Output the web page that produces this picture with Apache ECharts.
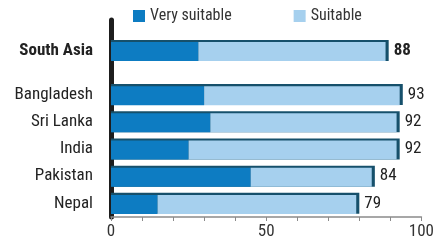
<!DOCTYPE html>
<html>
<head>
<meta charset="utf-8">
<script src="https://cdn.jsdelivr.net/npm/echarts@6/dist/echarts.min.js"></script>
<style>
  html, body { margin: 0; padding: 0; background: #fff; }
  #chart { width: 437px; height: 246px; }
</style>
</head>
<body>
<div id="chart"></div>
<script>
// region row (top) and country rows
var regionName = ['South Asia']
var regionVery = [28]
var regionSuit = [60]
var regionTotal = [88]

var countries = ['Bangladesh', 'Sri Lanka', 'India', 'Pakistan', 'Nepal']
var countryVery = [30, 32, 25, 45, 15]
var countrySuit = [63, 60, 67, 39, 64]
var countryTotal = [93, 92, 92, 84, 79]

var xTicks = [0, 50, 100]

var FONT = '"Liberation Sans Narrow", "Arial Narrow", "Roboto Condensed", Roboto, sans-serif'
var DARK = '#0d7cc2'
var LIGHT = '#a6d0ee'
var FRAME = '#16506b'

var chart = echarts.init(document.getElementById('chart'))

function xAxisFor(idx, show) {
  return {
    gridIndex: idx,
    type: 'value',
    min: 0,
    max: 100,
    interval: 10,
    show: show,
    splitLine: { show: false },
    axisLine: { show: true, lineStyle: { color: '#8a8a8a', width: 1.5 } },
    axisTick: { show: true, length: 4, lineStyle: { color: '#8a8a8a' } },
    axisLabel: {
      fontFamily: FONT,
      fontSize: 17,
      color: '#333',
      margin: 6,
      formatter: function (v) { return xTicks.indexOf(v) >= 0 ? String(v) : '' }
    }
  }
}

function yAxisFor(idx, cats, bold) {
  return {
    gridIndex: idx,
    type: 'category',
    data: cats,
    inverse: true,
    offset: 3,
    axisLine: { show: true, lineStyle: { color: '#1d1d1d', width: 5 } },
    axisTick: { show: false },
    axisLabel: {
      fontFamily: FONT,
      fontSize: 17,
      fontWeight: bold ? 'bold' : 'normal',
      color: '#222',
      margin: 15
    }
  }
}

// frame bar sits behind, the stacked bars overlay it leaving a dark top + right edge
function rowSeries(idx, very, suit, total, bold, bw) {
  return [
    {
      name: 'frame',
      type: 'bar',
      xAxisIndex: idx,
      yAxisIndex: idx,
      barWidth: bw,
      barGap: '-90%',
      data: total.map(function (t) { return t + 1 }),
      itemStyle: { color: FRAME },
      silent: true,
      label: {
        show: true,
        position: 'right',
        distance: 5,
        fontFamily: FONT,
        fontSize: 17,
        fontWeight: bold ? 'bold' : 'normal',
        color: '#222',
        formatter: function (p) { return total[p.dataIndex] }
      }
    },
    {
      name: 'Very suitable',
      type: 'bar',
      stack: 'row' + idx,
      xAxisIndex: idx,
      yAxisIndex: idx,
      barWidth: bw - 2,
      barGap: '-90%',
      data: very,
      itemStyle: { color: DARK }
    },
    {
      name: 'Suitable',
      type: 'bar',
      stack: 'row' + idx,
      xAxisIndex: idx,
      yAxisIndex: idx,
      barWidth: bw - 2,
      barGap: '-90%',
      data: suit,
      itemStyle: { color: LIGHT }
    }
  ]
}

chart.setOption({
  animation: false,
  legend: {
    data: ['Very suitable', 'Suitable'],
    left: 128,
    top: 3,
    itemWidth: 12,
    itemHeight: 12,
    itemGap: 62,
    icon: 'rect',
    textStyle: { fontFamily: FONT, fontSize: 16, color: '#333' }
  },
  grid: [
    { left: 111, right: 14, top: 20, height: 61 },
    { left: 111, right: 14, top: 81, height: 136 }
  ],
  xAxis: [xAxisFor(0, false), xAxisFor(1, true)],
  yAxis: [yAxisFor(0, regionName, true), yAxisFor(1, countries, false)],
  series: rowSeries(0, regionVery, regionSuit, regionTotal, true, 21)
    .concat(rowSeries(1, countryVery, countrySuit, countryTotal, false, 21))
})
</script>
</body>
</html>
